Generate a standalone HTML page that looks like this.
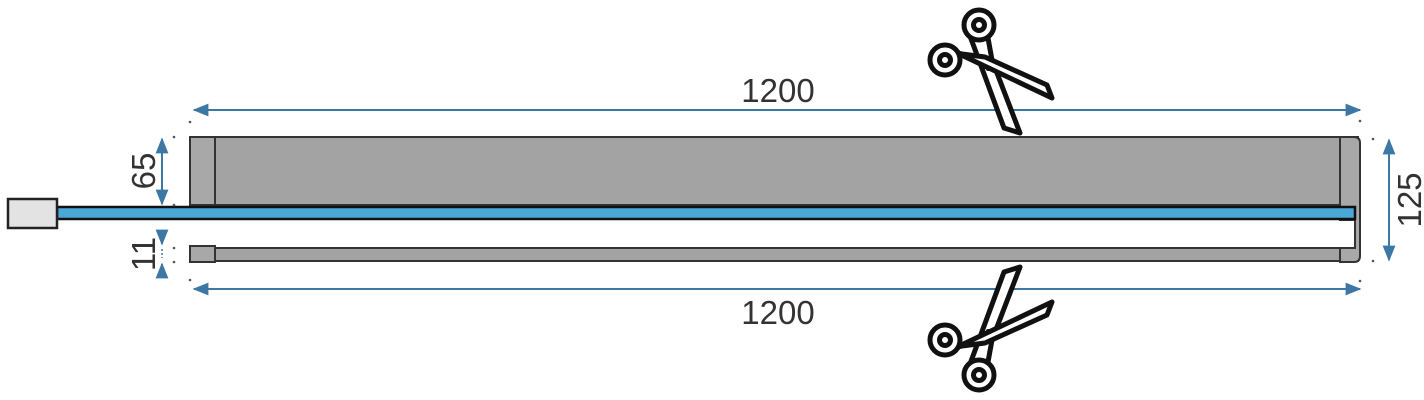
<!DOCTYPE html>
<html><head><style>
html,body{margin:0;padding:0;background:#fff;width:1424px;height:400px;overflow:hidden}
text{font-family:"Liberation Sans",sans-serif;fill:#333}
</style></head><body>
<svg width="1424" height="400" viewBox="0 0 1424 400" xmlns="http://www.w3.org/2000/svg">
<defs>
<marker id="a" viewBox="0 0 10 10" refX="9" refY="5" markerWidth="8" markerHeight="8" orient="auto-start-reverse"><path d="M0,1 L10,5 L0,9 Z" fill="#3d77a3"/></marker>
<g id="sc" fill="#fff" stroke="#111" stroke-width="5" stroke-linejoin="round">
 <path d="M970,36 L1004,128 L1020,133 L992,60 L988,38 Z"/>
 <path d="M955,52 L1052,98 L1047,85 L985,57 L962,54 Z"/>
 <circle cx="979" cy="25" r="15"/><circle cx="979" cy="25" r="5.5"/>
 <circle cx="945" cy="60" r="15"/><circle cx="945" cy="60" r="5.5"/>
 <circle cx="988" cy="69" r="2" fill="#111" stroke="none"/>
</g>
</defs>
<line x1="194" y1="110" x2="1360" y2="110" stroke="#3d77a3" stroke-width="2" marker-start="url(#a)" marker-end="url(#a)"/>
<line x1="194" y1="289" x2="1360" y2="289" stroke="#3d77a3" stroke-width="2" marker-start="url(#a)" marker-end="url(#a)"/>
<line x1="162" y1="139" x2="162" y2="204" stroke="#3d77a3" stroke-width="2" marker-start="url(#a)" marker-end="url(#a)"/>
<line x1="1389" y1="140" x2="1389" y2="260" stroke="#3d77a3" stroke-width="2" marker-start="url(#a)" marker-end="url(#a)"/>
<line x1="162" y1="230" x2="162" y2="244" stroke="#3d77a3" stroke-width="2" marker-end="url(#a)"/>
<line x1="162" y1="275" x2="162" y2="264" stroke="#3d77a3" stroke-width="2" marker-end="url(#a)"/>
<line x1="162" y1="249" x2="162" y2="258" stroke="#3d77a3" stroke-width="1.5" stroke-dasharray="2,2"/>
<text x="778" y="102" font-size="33" text-anchor="middle">1200</text>
<text x="778" y="324" font-size="33" text-anchor="middle">1200</text>
<text transform="translate(155,171) rotate(-90)" font-size="33" text-anchor="middle">65</text>
<text transform="translate(155,254) rotate(-90)" font-size="33" text-anchor="middle">11</text>
<text transform="translate(1421,200) rotate(-90)" font-size="33" text-anchor="middle">125</text>
<rect x="190" y="137" width="1168" height="68" fill="#a3a3a3" stroke="#333" stroke-width="2"/>
<rect x="190" y="137" width="25" height="68" fill="#a8a8a8" stroke="#333" stroke-width="2"/>
<rect x="190" y="248" width="1168" height="13" fill="#a3a3a3" stroke="#333" stroke-width="2"/>
<rect x="190" y="246" width="25" height="16" fill="#a8a8a8" stroke="#333" stroke-width="2"/>
<path d="M1340,137 L1354,137 Q1360,137 1360,143 L1360,256 Q1360,262 1354,262 L1340,262 L1340,248 L1355,248 L1355,220 L1340,220 Z" fill="#a8a8a8" stroke="#333" stroke-width="2"/>
<rect x="1341" y="221" width="13" height="26" fill="#fff"/>
<rect x="57" y="207" width="1298" height="12" fill="#4aa8d8" stroke="#111" stroke-width="2.5"/>
<rect x="8" y="199" width="49" height="29" fill="#e3e3e3" stroke="#222" stroke-width="2.5"/>
<g fill="#555">
<circle cx="174" cy="137" r="1.3"/><circle cx="174" cy="205" r="1.3"/><circle cx="174" cy="248" r="1.3"/><circle cx="174" cy="262" r="1.3"/>
<circle cx="190" cy="122" r="1.3"/><circle cx="190" cy="280" r="1.3"/>
<circle cx="1360" cy="121" r="1.3"/><circle cx="1360" cy="281" r="1.3"/>
<circle cx="1373" cy="139" r="1.3"/><circle cx="1373" cy="261" r="1.3"/>
</g>
<use href="#sc"/>
<use href="#sc" transform="translate(0,400) scale(1,-1)"/>
</svg>
</body></html>
